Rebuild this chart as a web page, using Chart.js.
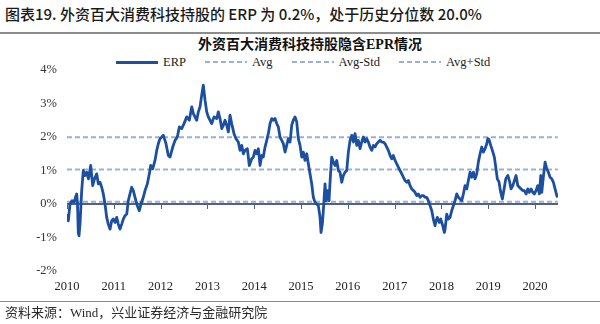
<!DOCTYPE html>
<html>
<head>
<meta charset="utf-8">
<script src="https://cdn.jsdelivr.net/npm/chart.js@4/dist/chart.umd.min.js"></script>
<style>
  html, body { margin: 0; padding: 0; background: #fff; }
  #wrap { position: relative; width: 600px; height: 324px; overflow: hidden; background: #fff; }
  #chart { position: absolute; left: 0; top: 0; }
  .head { position: absolute; left: 5px; top: 5px; font: 500 15px/18px "Noto Sans CJK SC", sans-serif; color: #1a1a1a; white-space: nowrap; }
  .rule { position: absolute; left: 0; width: 600px; background: #8c8c8c; }
  .ctitle { position: absolute; left: 0; width: 620px; top: 37px; text-align: center; font: bold 14px/16px "Liberation Serif", "Noto Sans CJK SC", serif; color: #111; white-space: nowrap; }
  #legend { position: absolute; left: 116px; top: 55px; display: flex; gap: 19px; font: 12.5px/14px "Liberation Serif", serif; color: #222; white-space: nowrap; }
  #legend .item { display: flex; align-items: center; }
  #legend .sw { width: 42px; margin-right: 5px; }
  .src { position: absolute; left: 5px; top: 305px; font: 13px/16px "Liberation Serif", "Noto Sans CJK SC", serif; color: #2a2a2a; white-space: nowrap; }
</style>
</head>
<body>
<div id="wrap">
  <div class="head">图表19. 外资百大消费科技持股的 ERP 为 0.2%，处于历史分位数 20.0%</div>
  <div class="rule" style="top:32px;height:2px;"></div>
  <div class="ctitle">外资百大消费科技持股隐含EPR情况</div>
  <div id="legend"></div>
  <canvas id="chart" width="600" height="324"></canvas>
  <div class="rule" style="top:301px;height:1px;"></div>
  <div class="src">资料来源：Wind，兴业证券经济与金融研究院</div>
</div>
<script>
// Observation dates (decimal years) and ERP readings in percent
const erpTime = [
  2010.006, 2010.028, 2010.064, 2010.107, 2010.150, 2010.182, 2010.207, 2010.224, 2010.241, 2010.256, 2010.278, 2010.314, 2010.348, 2010.385, 2010.421, 2010.459, 2010.506, 2010.549, 2010.588, 2010.635, 2010.669, 2010.705, 2010.741, 2010.776, 2010.812, 2010.848, 2010.882, 2010.919, 2010.955, 2010.989,
  2011.026, 2011.062, 2011.096, 2011.132, 2011.169, 2011.203, 2011.239, 2011.276, 2011.310, 2011.346, 2011.382, 2011.417, 2011.453, 2011.502, 2011.545, 2011.581, 2011.630, 2011.667, 2011.716, 2011.759, 2011.788, 2011.831, 2011.880, 2011.917, 2011.951, 2011.987,
  2012.024, 2012.058, 2012.115, 2012.165, 2012.201, 2012.259, 2012.308, 2012.357, 2012.400, 2012.451, 2012.500, 2012.558, 2012.613, 2012.665, 2012.699, 2012.735, 2012.771, 2012.806, 2012.842, 2012.878, 2012.912, 2012.949, 2012.985,
  2013.019, 2013.056, 2013.092, 2013.141, 2013.199, 2013.233, 2013.269, 2013.306, 2013.340, 2013.376, 2013.412, 2013.447, 2013.483, 2013.519, 2013.568, 2013.611, 2013.660, 2013.697, 2013.733, 2013.767, 2013.803, 2013.853, 2013.895, 2013.947, 2013.981,
  2014.017, 2014.053, 2014.088, 2014.124, 2014.160, 2014.194, 2014.231, 2014.267, 2014.301, 2014.338, 2014.374, 2014.408, 2014.444, 2014.481, 2014.515, 2014.551, 2014.588, 2014.622, 2014.658, 2014.694, 2014.729, 2014.765, 2014.801, 2014.835, 2014.872, 2014.908, 2014.942, 2014.979,
  2015.015, 2015.049, 2015.085, 2015.122, 2015.156, 2015.192, 2015.229, 2015.263, 2015.299, 2015.335, 2015.370, 2015.406, 2015.427, 2015.455, 2015.476, 2015.513, 2015.534, 2015.571, 2015.598, 2015.626, 2015.656, 2015.690, 2015.726, 2015.763, 2015.797, 2015.833, 2015.870, 2015.904, 2015.940, 2015.976,
  2016.011, 2016.047, 2016.083, 2016.118, 2016.154, 2016.190, 2016.224, 2016.261, 2016.297, 2016.331, 2016.368, 2016.404, 2016.438, 2016.474, 2016.511, 2016.545, 2016.581, 2016.618, 2016.652, 2016.688, 2016.724, 2016.759, 2016.795, 2016.831, 2016.865, 2016.902, 2016.938, 2016.972,
  2017.009, 2017.045, 2017.079, 2017.115, 2017.152, 2017.186, 2017.222, 2017.259, 2017.293, 2017.329, 2017.365, 2017.400, 2017.436, 2017.472, 2017.506, 2017.543, 2017.579, 2017.613, 2017.650, 2017.686, 2017.720, 2017.756, 2017.793, 2017.827, 2017.863, 2017.885, 2017.912, 2017.955, 2017.985,
  2018.028, 2018.062, 2018.077, 2018.113, 2018.147, 2018.184, 2018.220, 2018.254, 2018.291, 2018.327, 2018.361, 2018.397, 2018.434, 2018.468, 2018.504, 2018.541, 2018.575, 2018.611, 2018.647, 2018.682, 2018.718, 2018.754, 2018.788, 2018.825, 2018.861, 2018.895, 2018.932, 2018.968, 2018.989,
  2019.017, 2019.053, 2019.088, 2019.130, 2019.160, 2019.194, 2019.231, 2019.259, 2019.301, 2019.338, 2019.374, 2019.417, 2019.451, 2019.487, 2019.524, 2019.558, 2019.594, 2019.630, 2019.665, 2019.701, 2019.737, 2019.771, 2019.808, 2019.844, 2019.878, 2019.915, 2019.951, 2019.985,
  2020.021, 2020.058, 2020.092, 2020.122, 2020.143, 2020.177, 2020.214, 2020.250, 2020.284, 2020.321, 2020.357, 2020.391, 2020.427, 2020.464, 2020.485
];
const erpValues = [
  -0.3, -0.5, 0.0, 0.1, 0.05, 0.2, 0.3, 0.0, -0.85, -0.95, -0.6, 0.4, 1.0, 0.85, 0.95, 0.75, 1.15, 0.55, 0.75, 0.9, 0.6, 0.65, 0.5, 0.3, 0.0, -0.4, -0.6, -0.75, -0.5, -0.45,
  -0.55, -0.4, -0.6, -0.75, -0.6, -0.45, -0.35, -0.3, 0.1, 0.3, 0.5, 0.4, 0.2, -0.05, -0.2, 0.0, 0.2, 0.4, 0.6, 0.9, 1.15, 1.05, 1.3, 1.6, 1.8, 1.95,
  2.0, 2.05, 1.8, 1.45, 1.4, 1.7, 1.9, 2.0, 2.3, 2.25, 2.4, 2.6, 2.5, 2.9, 2.7, 2.6, 2.5, 2.75, 2.9, 3.25, 3.55, 3.1, 2.75,
  2.6, 2.5, 2.4, 2.6, 2.55, 2.75, 2.55, 2.25, 2.35, 2.5, 2.35, 2.15, 2.65, 2.4, 2.1, 1.95, 1.85, 1.6, 1.75, 1.5, 1.6, 1.65, 1.15, 1.35, 1.4,
  1.6, 1.5, 1.65, 1.15, 1.45, 1.4, 1.7, 1.9, 2.1, 2.4, 2.55, 2.5, 2.55, 2.4, 2.3, 2.0, 1.9, 1.8, 1.55, 1.75, 1.95, 1.85, 2.35, 2.5, 2.6, 2.45, 1.95, 1.75,
  1.4, 1.55, 1.3, 1.5, 1.2, 0.9, 0.6, 0.2, 0.05, 0.0, -0.05, -0.4, -0.85, -0.6, -0.2, 0.6, 0.1, 0.4, 0.1, 0.8, 1.4, 1.25, 1.15, 1.3, 1.0, 0.95, 0.65, 0.85, 0.95, 1.0,
  1.55, 1.9, 2.05, 1.85, 2.1, 1.75, 1.9, 1.65, 1.85, 2.0, 1.85, 1.95, 1.85, 1.7, 1.6, 1.75, 1.7, 1.8, 1.85, 1.9, 1.85, 1.85, 1.8, 1.7, 1.6, 1.45, 1.35, 1.45,
  1.3, 1.2, 1.1, 1.0, 0.9, 0.8, 0.7, 0.65, 0.7, 0.55, 0.45, 0.4, 0.35, 0.25, 0.3, 0.2, 0.25, 0.25, 0.2, 0.2, 0.1, -0.05, -0.2, -0.45, -0.65, -0.5, -0.4, -0.55, -0.45,
  -0.65, -0.85, -0.75, -0.3, -0.45, -0.4, -0.2, -0.05, 0.1, 0.3, 0.2, 0.15, 0.1, 0.3, 0.55, 0.45, 0.7, 0.95, 0.8, 0.95, 0.75, 0.9, 1.25, 1.5, 1.7, 1.55, 1.65, 1.8, 1.95,
  1.92, 1.75, 1.6, 1.4, 1.1, 0.75, 0.65, 0.4, 0.15, 0.45, 0.75, 0.85, 0.7, 0.45, 0.55, 0.7, 0.85, 0.55, 0.5, 0.45, 0.4, 0.4, 0.3, 0.45, 0.35, 0.45, 0.35, 0.3,
  0.4, 0.55, 0.3, 0.85, 0.35, 0.8, 1.25, 1.05, 0.95, 0.8, 0.75, 0.65, 0.45, 0.25, 0.2
];

// Reference levels over the whole period (percent)
const bandNames = ['Avg', 'Avg-Std', 'Avg+Std'];
const bandLevels = [1.03, 0.07, 1.99];

// Axis ticks
const yearTicks = [2010, 2011, 2012, 2013, 2014, 2015, 2016, 2017, 2018, 2019, 2020];
const pctTicks = [-2, -1, 0, 1, 2, 3, 4];

const erpColor = '#1c4f9f';
const bandColor = '#98b0da';
const axisColor = '#55607a';

const tEnd = erpTime[erpTime.length - 1];

const datasets = [{
  label: 'ERP',
  data: erpTime.map((t, i) => ({ x: t, y: erpValues[i] })),
  borderColor: erpColor,
  backgroundColor: erpColor,
  borderWidth: 2.8,
  pointRadius: 0,
  tension: 0,
  borderJoinStyle: 'round'
}].concat(bandNames.map((name, i) => ({
  label: name,
  data: [{ x: 2010, y: bandLevels[i] }, { x: tEnd, y: bandLevels[i] }],
  borderColor: bandColor,
  backgroundColor: bandColor,
  borderWidth: 2,
  borderDash: [5, 3],
  pointRadius: 0
})));

// Zero line with small year tick marks hanging below it
const zeroAxis = {
  id: 'zeroAxis',
  beforeDatasetsDraw(chart) {
    const { ctx, chartArea: a, scales: { x, y } } = chart;
    const y0 = Math.round(y.getPixelForValue(0));
    ctx.save();
    ctx.strokeStyle = axisColor;
    ctx.lineWidth = 2;
    ctx.beginPath();
    ctx.moveTo(a.left, y0);
    ctx.lineTo(a.right, y0);
    ctx.stroke();
    ctx.lineWidth = 1;
    yearTicks.forEach(v => {
      const px = Math.round(x.getPixelForValue(v)) + 0.5;
      ctx.beginPath();
      ctx.moveTo(px, y0);
      ctx.lineTo(px, y0 + 5);
      ctx.stroke();
    });
    ctx.restore();
  }
};

const chart = new Chart(document.getElementById('chart'), {
  type: 'line',
  data: { datasets },
  plugins: [zeroAxis],
  options: {
    responsive: false,
    animation: false,
    layout: { padding: { top: 70, right: 42, bottom: 23, left: 0 } },
    plugins: { legend: { display: false }, title: { display: false }, tooltip: { enabled: false } },
    scales: {
      x: {
        type: 'linear',
        min: 2010,
        max: 2020.49,
        grid: { display: false, drawTicks: false },
        border: { display: false },
        afterBuildTicks: s => { s.ticks = yearTicks.map(v => ({ value: v })); },
        afterFit: s => { s.height = 30; },
        ticks: {
          autoSkip: false,
          maxRotation: 0,
          padding: 8,
          color: '#222',
          font: { family: 'Liberation Serif', size: 12.5 },
          callback: v => String(v)
        }
      },
      y: {
        min: -2,
        max: 4,
        grid: { display: false, drawTicks: false },
        border: { display: false },
        afterBuildTicks: s => { s.ticks = pctTicks.map(v => ({ value: v })); },
        afterFit: s => { s.width = 67; },
        ticks: {
          padding: 10,
          color: '#333',
          font: { family: 'Liberation Serif', size: 12.5 },
          callback: v => v + '%'
        }
      }
    }
  }
});

// Legend built from the chart's own datasets
const legendEl = document.getElementById('legend');
chart.data.datasets.forEach(ds => {
  const item = document.createElement('span');
  item.className = 'item';
  const sw = document.createElement('span');
  sw.className = 'sw';
  if (ds.borderDash) {
    sw.style.height = '2px';
    sw.style.background = `repeating-linear-gradient(to right, ${ds.borderColor} 0 5px, transparent 5px 8px)`;
  } else {
    sw.style.height = '3px';
    sw.style.background = ds.borderColor;
  }
  const txt = document.createElement('span');
  txt.textContent = ds.label;
  item.appendChild(sw);
  item.appendChild(txt);
  legendEl.appendChild(item);
});
</script>
</body>
</html>
